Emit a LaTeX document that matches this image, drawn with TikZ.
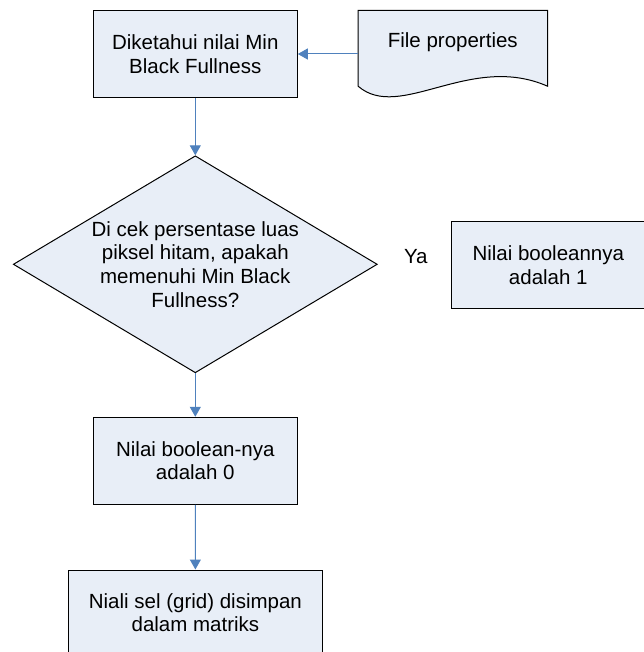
\documentclass[tikz,border=0pt]{standalone}
\usepackage{fontspec}
\setmainfont{Liberation Sans}
\usetikzlibrary{shapes.geometric,arrows.meta,backgrounds}
\definecolor{boxfill}{RGB}{232,238,247}
\definecolor{flowblue}{RGB}{79,129,189}
\begin{document}
\begin{tikzpicture}[x=1pt,y=-1pt,
  font=\fontsize{20.5}{23.6}\selectfont,
  procbox/.style={draw=black,fill=boxfill,line width=1pt,align=center,inner sep=0pt},
  decision/.style={diamond,draw=black,fill=boxfill,line width=1pt,inner sep=0pt},
  flow/.style={draw=flowblue,line width=1pt,-{Triangle[width=11pt,length=10pt]}},
]
\useasboundingbox (0,0) rectangle (643,652);

% process steps
\node[procbox, minimum width=204pt, minimum height=86.6pt] (known) at (195.3,54) {Diketahui nilai Min\\Black Fullness};
\node[minimum width=189pt, minimum height=64pt, inner sep=0pt] (props) at (452.8,42.7) {File properties};
\node[decision, minimum width=364pt, minimum height=217pt] (check) at (195.3,264.3) {};
\node[align=center, inner sep=0pt] (checktext) at (check.center) {Di cek persentase luas\\piksel hitam, apakah\\memenuhi Min Black\\Fullness?};
\node (ya) at (415.8,257) {Ya};
\node[procbox, minimum width=193.3pt, minimum height=86.6pt] (one) at (548.3,265) {Nilai booleannya\\adalah 1};
\node[procbox, minimum width=204pt, minimum height=87pt] (zero) at (195.3,460.8) {Nilai boolean-nya\\adalah 0};
\node[procbox, minimum width=254.4pt, minimum height=85pt] (store) at (195.4,612.5) {Niali sel (grid) disimpan\\dalam matriks};

% page background and the document symbol behind its label
\begin{pgfonlayer}{background}
  \fill[white] (0,0) rectangle (643,652);
  \filldraw[fill=boxfill, draw=black, line width=1pt]
    (props.north west) -- (props.north east) -- ([yshift=-11.3pt]props.south east)
    .. controls ([xshift=-77.3pt,yshift=22.7pt]props.south east) and ([xshift=41.7pt,yshift=-47.3pt]props.south west)
    .. ([yshift=-11.3pt]props.south west) -- cycle;
\end{pgfonlayer}

% connectors
\draw[flow] (props.west |- known.east) -- (known.east);
\draw[flow] (known) -- (check);
\draw[flow] (check) -- (zero);
\draw[flow] (zero) -- (store);
\end{tikzpicture}
\end{document}
